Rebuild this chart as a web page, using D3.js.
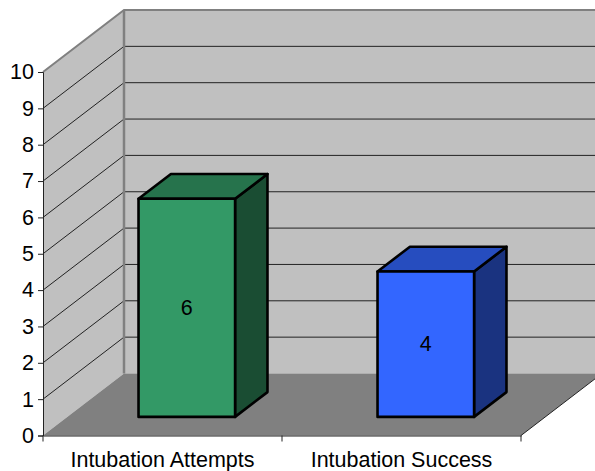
<!DOCTYPE html>
<html>
<head>
<meta charset="utf-8">
<script src="https://cdn.jsdelivr.net/npm/d3@7"></script>
<style>
	html, body { margin: 0; padding: 0; background: #fff; }
	svg { display: block; }
	text { font-family: "Liberation Sans", Arial, sans-serif; font-size: 21.5px; fill: #000; }
</style>
</head>
<body>
<div class="container"></div>
<script>
"use strict";

const categories = ['Intubation Attempts', 'Intubation Success'];
const values = [6, 4];
const tickValues = [0, 1, 2, 3, 4, 5, 6, 7, 8, 9, 10];
const frontColors = ['#339966', '#3366ff'];
const topColors = ['#26734c', '#264dbf'];
const sideColors = ['#1a4d33', '#1a3380'];

const p = {
	width: 595,
	height: 471,
	left: 43,
	right: 521,
	bottom: 435.5,
	top: 72,
	depthX: 81, //how far the back wall is shifted from the front
	depthY: -62,
	barFront: 0.3, //bar position inside the depth of the floor
	barBack: 0.7,
	barShare: 0.404 //bar width as a part of the band
};

const svg = d3.select('.container')
	.append('svg')
	.attr('width', p.width)
	.attr('height', p.height);

const x = d3.scaleBand().domain(categories).range([p.left, p.right]);
const y = d3.scaleLinear().domain([0, 10]).range([p.bottom, p.top]);

//project a point of the 3d box on the screen, d goes 0(front) to 1(back)
const px = (sx, d) => sx + d * p.depthX;
const py = (sy, d) => sy + d * p.depthY;
const pts = arr => arr.map(a => a.join(',')).join(' ');

const [x0, x1] = x.range();
const y0 = y(0), yMax = y(10);

//walls and floor
svg.append('polygon')
	.attr('points', pts([[x0, y0], [px(x0, 1), py(y0, 1)], [px(x0, 1), py(yMax, 1)], [x0, yMax]]))
	.attr('fill', '#c0c0c0');
svg.append('polygon')
	.attr('points', pts([[px(x0, 1), py(y0, 1)], [px(x1, 1), py(y0, 1)], [px(x1, 1), py(yMax, 1)], [px(x0, 1), py(yMax, 1)]]))
	.attr('fill', '#c0c0c0');
svg.append('polygon')
	.attr('points', pts([[x0, y0], [px(x0, 1), py(y0, 1)], [px(x1, 1), py(y0, 1)], [x1, y0]]))
	.attr('fill', '#808080');

//gridlines
tickValues.slice(1, -1).forEach(v => {
	svg.append('polyline')
		.attr('points', pts([[x0, y(v)], [px(x0, 1), py(y(v), 1)], [px(x1, 1), py(y(v), 1)]]))
		.attr('fill', 'none')
		.attr('stroke', '#222')
		.attr('stroke-width', 1);
});

//grey wall edges
svg.append('polyline')
	.attr('points', pts([[x0, yMax], [px(x0, 1), py(yMax, 1)], [px(x1, 1), py(yMax, 1)]]))
	.attr('fill', 'none')
	.attr('stroke', '#808080')
	.attr('stroke-width', 2);
svg.append('line')
	.attr('x1', px(x0, 1)).attr('y1', py(yMax, 1))
	.attr('x2', px(x0, 1)).attr('y2', py(y0, 1))
	.attr('stroke', '#808080')
	.attr('stroke-width', 2.5);
svg.append('line')
	.attr('x1', x1).attr('y1', y0)
	.attr('x2', px(x1, 1)).attr('y2', py(y0, 1))
	.attr('stroke', '#222')
	.attr('stroke-width', 1);

//axes
const yAxis = svg.append('g')
	.attr('transform', `translate(${x0},0)`)
	.call(d3.axisLeft(y).tickValues(tickValues).tickFormat(d3.format('d')).tickSize(5).tickPadding(4));
yAxis.selectAll('path,line').attr('stroke', '#222');

const xAxis = svg.append('g')
	.attr('transform', `translate(0,${y0})`)
	.call(d3.axisBottom(x).tickSize(0).tickPadding(16));
xAxis.selectAll('path').attr('stroke', '#222');

//tick marks between the categories
svg.append('g')
	.selectAll('line')
	.data([x0, x0 + x.bandwidth(), x1])
	.join('line')
	.attr('x1', d => d).attr('x2', d => d)
	.attr('y1', y0).attr('y2', y0 + 6)
	.attr('stroke', '#222');

svg.selectAll('.tick text')
	.style('font-family', '"Liberation Sans", Arial, sans-serif')
	.style('font-size', '21.5px')
	.attr('fill', '#000');

//the bars
const barWidth = x.bandwidth() * p.barShare;
const bars = svg.selectAll('.bar')
	.data(categories)
	.join('g')
	.attr('class', 'bar');

bars.each(function(cat, i) {
	const g = d3.select(this);
	const bx0 = x(cat) + (x.bandwidth() - barWidth) / 2;
	const bx1 = bx0 + barWidth;
	const yb = y(0), yt = y(values[i]);
	const f = p.barFront, b = p.barBack;
	const style = s => s.attr('stroke', '#000').attr('stroke-width', 2.6).attr('stroke-linejoin', 'round');

	g.append('polygon').call(style)
		.attr('fill', sideColors[i])
		.attr('points', pts([[px(bx1, f), py(yb, f)], [px(bx1, b), py(yb, b)], [px(bx1, b), py(yt, b)], [px(bx1, f), py(yt, f)]]));
	g.append('polygon').call(style)
		.attr('fill', topColors[i])
		.attr('points', pts([[px(bx0, f), py(yt, f)], [px(bx0, b), py(yt, b)], [px(bx1, b), py(yt, b)], [px(bx1, f), py(yt, f)]]));
	g.append('polygon').call(style)
		.attr('fill', frontColors[i])
		.attr('points', pts([[px(bx0, f), py(yb, f)], [px(bx1, f), py(yb, f)], [px(bx1, f), py(yt, f)], [px(bx0, f), py(yt, f)]]));
	g.append('text')
		.attr('x', px((bx0 + bx1) / 2, f))
		.attr('y', py((yb + yt) / 2, f))
		.attr('dy', '0.33em')
		.attr('text-anchor', 'middle')
		.text(values[i]);
});
</script>
</body>
</html>
